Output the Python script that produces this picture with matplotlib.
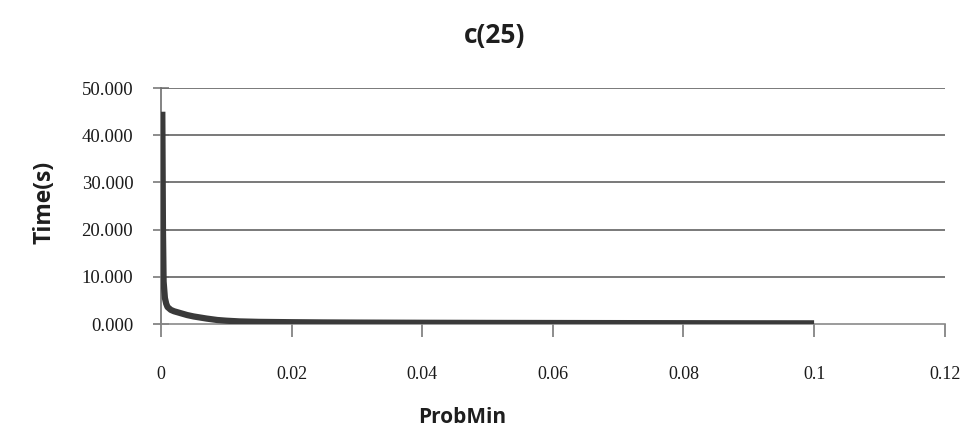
import matplotlib.pyplot as plt

# run time against ProbMin for c(25)
prob_min = [0.0002, 0.0003, 0.0004, 0.0006, 0.0008, 0.001, 0.0015, 0.002, 0.003, 0.004,
            0.005, 0.007, 0.0086, 0.01, 0.012, 0.015, 0.02, 0.025, 0.03, 0.04,
            0.05, 0.06, 0.07, 0.08, 0.09, 0.1]
time_s = [45.0, 20.0, 9.0, 5.5, 4.3, 3.6, 3.0, 2.7, 2.3, 1.9,
          1.6, 1.15, 0.85, 0.7, 0.55, 0.45, 0.38, 0.33, 0.3, 0.26,
          0.23, 0.21, 0.19, 0.17, 0.15, 0.14]
x_ticks = [0, 0.02, 0.04, 0.06, 0.08, 0.1, 0.12]
x_labels = ["0", "0.02", "0.04", "0.06", "0.08", "0.1", "0.12"]
y_ticks = [0, 10, 20, 30, 40, 50]
y_labels = ["0.000", "10.000", "20.000", "30.000", "40.000", "50.000"]

fig = plt.figure(figsize=(9.64, 4.3), dpi=100)
ax = fig.add_axes([0.167, 0.2465, 0.813, 0.5485])

for v in y_ticks[1:]:
    ax.axhline(v, color="#6e6e6e", linewidth=1.3, zorder=1)

ax.plot(prob_min, time_s, color="#3a3a3a", linewidth=4.5, solid_capstyle="butt", zorder=3)

ax.set_xlim(0, 0.12)
ax.set_ylim(0, 50)
ax.set_xticks(x_ticks, labels=x_labels)
ax.set_yticks(y_ticks, labels=y_labels)

for s in ["top", "right"]:
    ax.spines[s].set_visible(False)
ax.spines["left"].set_color("#6e6e6e")
ax.spines["bottom"].set_color("#8a8a8a")
ax.spines["left"].set_linewidth(1.2)
ax.spines["bottom"].set_linewidth(1.2)

ax.tick_params(axis="x", direction="out", length=9, width=1.1, color="#6e6e6e",
               pad=21, labelsize=13, labelfontfamily="Liberation Serif")
ax.tick_params(axis="y", direction="inout", length=12, width=1.1, color="#6e6e6e",
               pad=14, labelsize=13.5, labelfontfamily="Liberation Serif")
for lbl in ax.get_xticklabels() + ax.get_yticklabels():
    lbl.set_color("#1a1a1a")

fig.text(0.513, 0.918, "c(25)", ha="center", va="center", fontsize=19,
         fontweight="bold", family="Open Sans", color="#1e1e1e")
fig.text(0.479, 0.03, "ProbMin", ha="center", va="center", fontsize=15,
         fontweight="bold", family="Open Sans", color="#1e1e1e")
fig.text(0.046, 0.53, "Time(s)", ha="center", va="center", rotation=90, fontsize=16.5,
         fontweight="bold", family="Open Sans", color="#1e1e1e")

fig.savefig("out.png", dpi=100)
